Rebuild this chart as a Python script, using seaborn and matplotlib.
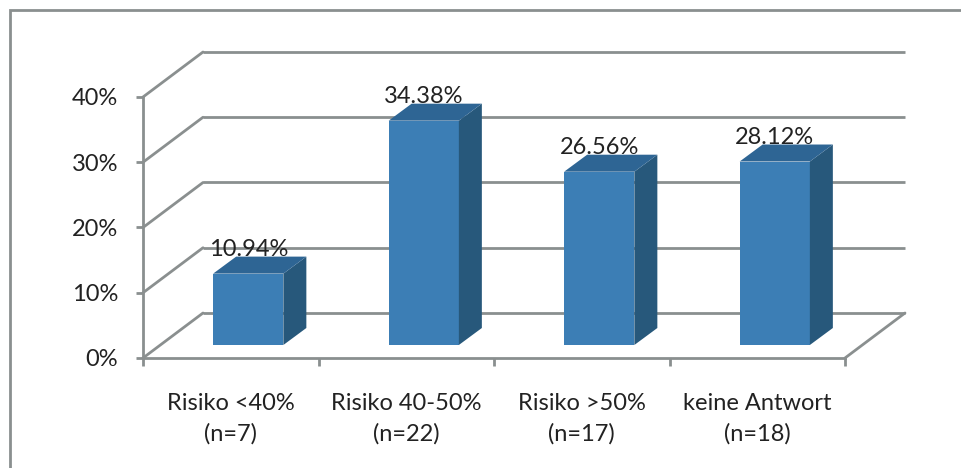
import numpy as np
import matplotlib
matplotlib.use("Agg")
import matplotlib.pyplot as plt
import matplotlib.ticker as mticker
import matplotlib.transforms as mtransforms
from matplotlib.patches import Polygon, Rectangle
from matplotlib.lines import Line2D
import seaborn as sns

# Daten
kategorien = ["Risiko <40%\n(n=7)", "Risiko 40-50%\n(n=22)",
              "Risiko >50%\n(n=17)", "keine Antwort\n(n=18)"]
werte = [10.94, 34.38, 26.56, 28.12]
y_ticks = [0, 10, 20, 30, 40]

sns.set_theme(style="white")
plt.rcParams["font.family"] = ["Lato", "DejaVu Sans"]

DPI = 100
fig = plt.figure(figsize=(9.62, 4.68), dpi=DPI)
W, H = 962, 468

# vordere Plotflaeche in Pixeln
x0, x1, yb, yt = 143, 845, 358, 97
ax = fig.add_axes([x0 / W, (H - yb) / H, (x1 - x0) / W, (yb - yt) / H])

# 3D-Tiefe (Pixel): Wand und Balkenlage
WAND = (60, 45)
BAR_VORNE = (17.5, 13)
BAR_TIEFE = (23, 17)

front = "#3c7eb5"
seite = "#27587b"
oben = "#2e6594"
grau = "#8a8f8f"
text_farbe = "#222222"
FS = 17

sns.barplot(x=kategorien, y=werte, width=0.4, color=front, saturation=1,
            ax=ax, zorder=3, linewidth=0, edgecolor=front)
ax.set_xlim(-0.5, 3.5)
ax.set_ylim(0, 40)

def versatz(dx, dy):
    return mtransforms.offset_copy(ax.transData, fig=fig, x=dx, y=dy, units="dots")

ident = mtransforms.IdentityTransform()

# Rueckwand: Gitterlinien und Diagonalen
for v in y_ticks:
    ax.plot([-0.5, 3.5], [v, v], color=grau, lw=2, transform=versatz(*WAND),
            clip_on=False, zorder=1, solid_capstyle="butt")
    p = ax.transData.transform((-0.5, v))
    ax.add_line(Line2D([p[0], p[0] + WAND[0]], [p[1], p[1] + WAND[1]],
                       color=grau, lw=2, transform=ident, clip_on=False, zorder=1))
# Boden rechts
p = ax.transData.transform((3.5, 0))
ax.add_line(Line2D([p[0], p[0] + WAND[0]], [p[1], p[1] + WAND[1]],
                   color=grau, lw=2, transform=ident, clip_on=False, zorder=1))

# Balken: Vorderseite verschieben, Seite und Deckel ergaenzen
vorne = versatz(*BAR_VORNE)
for i, bar in enumerate(ax.patches):
    bar.set_transform(vorne)
    bar.set_clip_on(False)
    bx, bw, bh = bar.get_x(), bar.get_width(), bar.get_height()
    b = ax.transData.transform((bx + bw, 0)) + BAR_VORNE
    c = ax.transData.transform((bx + bw, bh)) + BAR_VORNE
    d = ax.transData.transform((bx, bh)) + BAR_VORNE
    t = np.array(BAR_TIEFE)
    ax.add_patch(Polygon([b, b + t, c + t, c], closed=True, facecolor=seite,
                         edgecolor="none", transform=ident, clip_on=False, zorder=3))
    ax.add_patch(Polygon([d, c, c + t, d + t], closed=True, facecolor=oben,
                         edgecolor="none", transform=ident, clip_on=False, zorder=3))
    ax.text(bx + bw / 2, bh, f"{werte[i]:.2f}%", ha="center", va="baseline",
            fontsize=FS, color=text_farbe, zorder=5,
            transform=versatz(BAR_VORNE[0], BAR_VORNE[1] + BAR_TIEFE[1] + 1))

# Achsen
for s in ["top", "right"]:
    ax.spines[s].set_visible(False)
for s in ["left", "bottom"]:
    ax.spines[s].set_color(grau)
    ax.spines[s].set_linewidth(2)
    ax.spines[s].set_zorder(2)
ax.set_yticks(y_ticks)
ax.yaxis.set_major_formatter(mticker.PercentFormatter(decimals=0))
ax.tick_params(axis="y", direction="out", length=5, width=2, color=grau,
               pad=13, labelsize=FS, labelcolor=text_farbe, left=True)
ax.set_xticks(np.arange(-0.5, 4, 1), minor=True)
ax.tick_params(axis="x", which="minor", direction="out", length=6, width=2,
               color=grau, bottom=True)
ax.tick_params(axis="x", which="major", length=0, pad=25, labelsize=FS,
               labelcolor=text_farbe)
for lbl in ax.get_xticklabels():
    lbl.set_linespacing(1.55)
ax.set_xlabel("")
ax.set_ylabel("")
ax.grid(False)
ax.patch.set_alpha(0)

# Rahmen
fig.patches.append(Rectangle((10 / W, -0.05), 1.05, 1 - 10 / H + 0.05,
                             transform=fig.transFigure, fill=False,
                             edgecolor=grau, lw=2))

fig.savefig("out.png", dpi=DPI)
